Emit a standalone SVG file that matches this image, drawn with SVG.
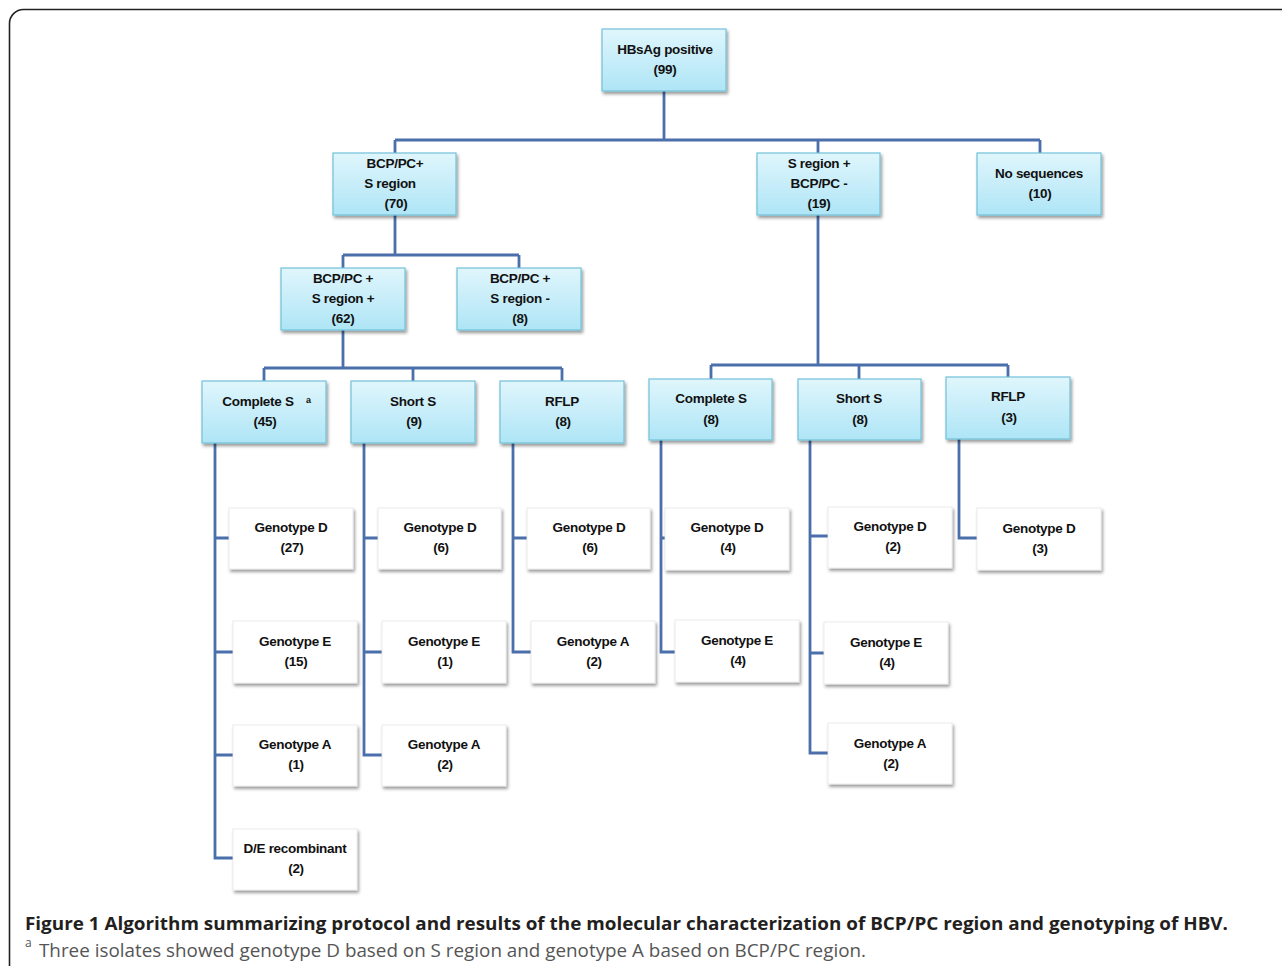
<svg xmlns="http://www.w3.org/2000/svg" width="1282" height="966" viewBox="0 0 1282 966">
<defs>
<linearGradient id="cy" x1="0" y1="0" x2="0" y2="1">
<stop offset="0" stop-color="#e0f6fc"/>
<stop offset="1" stop-color="#aee5f6"/>
</linearGradient>
<filter id="sh" x="-10%" y="-10%" width="130%" height="140%">
<feDropShadow dx="1.5" dy="2.5" stdDeviation="1.8" flood-color="#000" flood-opacity="0.4"/>
</filter>
</defs>
<style>
.n rect{fill:url(#cy);stroke:#72c1d9;stroke-width:1.2;filter:url(#sh)}
.l rect{fill:#fff;stroke:#e6e6e6;stroke-width:0.8;filter:url(#sh)}
text.t{font-family:"Liberation Sans",Arial,sans-serif;font-weight:bold;font-size:13.5px;fill:#111;text-anchor:middle;letter-spacing:-0.3px}
.c{fill:none;stroke:#4a6fab;stroke-width:2.8}
.cap1{font-family:"Open Sans","Liberation Sans",sans-serif;font-weight:bold;font-size:18.5px;fill:#231f20}
.cap2{font-family:"Open Sans","Liberation Sans",sans-serif;font-size:18px;fill:#555}
</style>
<rect x="9.5" y="9.5" width="1320" height="1010" rx="14" fill="none" stroke="#222" stroke-width="1.6"/>

<g id="connectors">
<path class="c" d="M664 91V140M395 140H1040M395 140V153M818 140V153M1040 140V153"/>
<path class="c" d="M395 215V255M343 255H519M343 255V268M519 255V268"/>
<path class="c" d="M343 330V368M264 368H562M264 368V381M413 368V381M562 368V381"/>
<path class="c" d="M818 215V365M711 365H1008M711 365V379M859 365V379M1008 365V377"/>
<path class="c" d="M215 443V858H233M215 538H229M215 652H233M215 755H233"/>
<path class="c" d="M364 443V755H382M364 538H378M364 652H382"/>
<path class="c" d="M513 443V652H531M513 538H527"/>
<path class="c" d="M661 440V652H675M661 538H665"/>
<path class="c" d="M810 440V753H828M810 536H828M810 653H824"/>
<path class="c" d="M959 439V538H977"/>
</g>

<g id="n-hbsag" class="n"><rect x="602" y="29" width="124" height="62"/><text class="t" x="665" y="54">HBsAg positive</text><text class="t" x="665" y="74">(99)</text></g>
<g id="n-bcp70" class="n"><rect x="333" y="153" width="123" height="62"/><text class="t" x="395" y="168">BCP/PC+</text><text class="t" x="390" y="188">S region</text><text class="t" x="396" y="208">(70)</text></g>
<g id="n-s19" class="n"><rect x="757" y="153" width="123" height="62"/><text class="t" x="819" y="168">S region +</text><text class="t" x="819" y="188">BCP/PC -</text><text class="t" x="819" y="208">(19)</text></g>
<g id="n-noseq" class="n"><rect x="977" y="153" width="124" height="62"/><text class="t" x="1039" y="178">No sequences</text><text class="t" x="1040" y="198">(10)</text></g>
<g id="n-62" class="n"><rect x="281" y="268" width="124" height="62"/><text class="t" x="343" y="283">BCP/PC +</text><text class="t" x="343" y="303">S region +</text><text class="t" x="343" y="323">(62)</text></g>
<g id="n-8a" class="n"><rect x="457" y="268" width="124" height="62"/><text class="t" x="520" y="283">BCP/PC +</text><text class="t" x="520" y="303">S region -</text><text class="t" x="520" y="323">(8)</text></g>
<g id="n-cs45" class="n"><rect x="202" y="381" width="124" height="62"/><text class="t" x="258" y="406">Complete S</text><text x="306" y="403" style="font-family:'Liberation Sans',Arial,sans-serif;font-weight:bold;font-size:9px;fill:#111">a</text><text class="t" x="265" y="426">(45)</text></g>
<g id="n-ss9" class="n"><rect x="351" y="381" width="124" height="62"/><text class="t" x="413" y="406">Short S</text><text class="t" x="414" y="426">(9)</text></g>
<g id="n-rflp8" class="n"><rect x="500" y="381" width="124" height="62"/><text class="t" x="562" y="406">RFLP</text><text class="t" x="563" y="426">(8)</text></g>
<g id="n-cs8" class="n"><rect x="649" y="379" width="123" height="61"/><text class="t" x="711" y="403">Complete S</text><text class="t" x="711" y="424">(8)</text></g>
<g id="n-ss8" class="n"><rect x="798" y="379" width="123" height="61"/><text class="t" x="859" y="403">Short S</text><text class="t" x="860" y="424">(8)</text></g>
<g id="n-rflp3" class="n"><rect x="946" y="377" width="124" height="62"/><text class="t" x="1008" y="401">RFLP</text><text class="t" x="1009" y="422">(3)</text></g>

<g id="l-d27" class="l"><rect x="229" y="508" width="124" height="61"/><text class="t" x="291" y="532">Genotype D</text><text class="t" x="292" y="552">(27)</text></g>
<g id="l-e15" class="l"><rect x="233" y="621" width="124" height="62"/><text class="t" x="295" y="646">Genotype E</text><text class="t" x="296" y="666">(15)</text></g>
<g id="l-a1" class="l"><rect x="233" y="725" width="124" height="61"/><text class="t" x="295" y="749">Genotype A</text><text class="t" x="296" y="769">(1)</text></g>
<g id="l-de2" class="l"><rect x="233" y="829" width="124" height="61"/><text class="t" x="295" y="853">D/E recombinant</text><text class="t" x="296" y="873">(2)</text></g>
<g id="l-d6a" class="l"><rect x="378" y="508" width="123" height="61"/><text class="t" x="440" y="532">Genotype D</text><text class="t" x="441" y="552">(6)</text></g>
<g id="l-e1" class="l"><rect x="382" y="621" width="124" height="62"/><text class="t" x="444" y="646">Genotype E</text><text class="t" x="445" y="666">(1)</text></g>
<g id="l-a2a" class="l"><rect x="382" y="725" width="124" height="61"/><text class="t" x="444" y="749">Genotype A</text><text class="t" x="445" y="769">(2)</text></g>
<g id="l-d6b" class="l"><rect x="527" y="508" width="123" height="61"/><text class="t" x="589" y="532">Genotype D</text><text class="t" x="590" y="552">(6)</text></g>
<g id="l-a2b" class="l"><rect x="531" y="621" width="124" height="62"/><text class="t" x="593" y="646">Genotype A</text><text class="t" x="594" y="666">(2)</text></g>
<g id="l-d4" class="l"><rect x="665" y="508" width="124" height="62"/><text class="t" x="727" y="532">Genotype D</text><text class="t" x="728" y="552">(4)</text></g>
<g id="l-e4a" class="l"><rect x="675" y="620" width="124" height="62"/><text class="t" x="737" y="645">Genotype E</text><text class="t" x="738" y="665">(4)</text></g>
<g id="l-d2" class="l"><rect x="828" y="507" width="124" height="61"/><text class="t" x="890" y="531">Genotype D</text><text class="t" x="893" y="551">(2)</text></g>
<g id="l-e4b" class="l"><rect x="824" y="622" width="124" height="62"/><text class="t" x="886" y="647">Genotype E</text><text class="t" x="887" y="667">(4)</text></g>
<g id="l-a2c" class="l"><rect x="828" y="723" width="124" height="61"/><text class="t" x="890" y="748">Genotype A</text><text class="t" x="891" y="768">(2)</text></g>
<g id="l-d3" class="l"><rect x="977" y="508" width="124" height="62"/><text class="t" x="1039" y="533">Genotype D</text><text class="t" x="1040" y="553">(3)</text></g>

<g id="caption">
<text class="cap1" x="25" y="930" textLength="1203" lengthAdjust="spacingAndGlyphs">Figure 1 Algorithm summarizing protocol and results of the molecular characterization of BCP/PC region and genotyping of HBV.</text>
<text class="cap2" x="25" y="947" style="font-size:12px">a</text>
<text class="cap2" x="39" y="957" textLength="827" lengthAdjust="spacingAndGlyphs">Three isolates showed genotype D based on S region and genotype A based on BCP/PC region.</text>
</g>
</svg>
